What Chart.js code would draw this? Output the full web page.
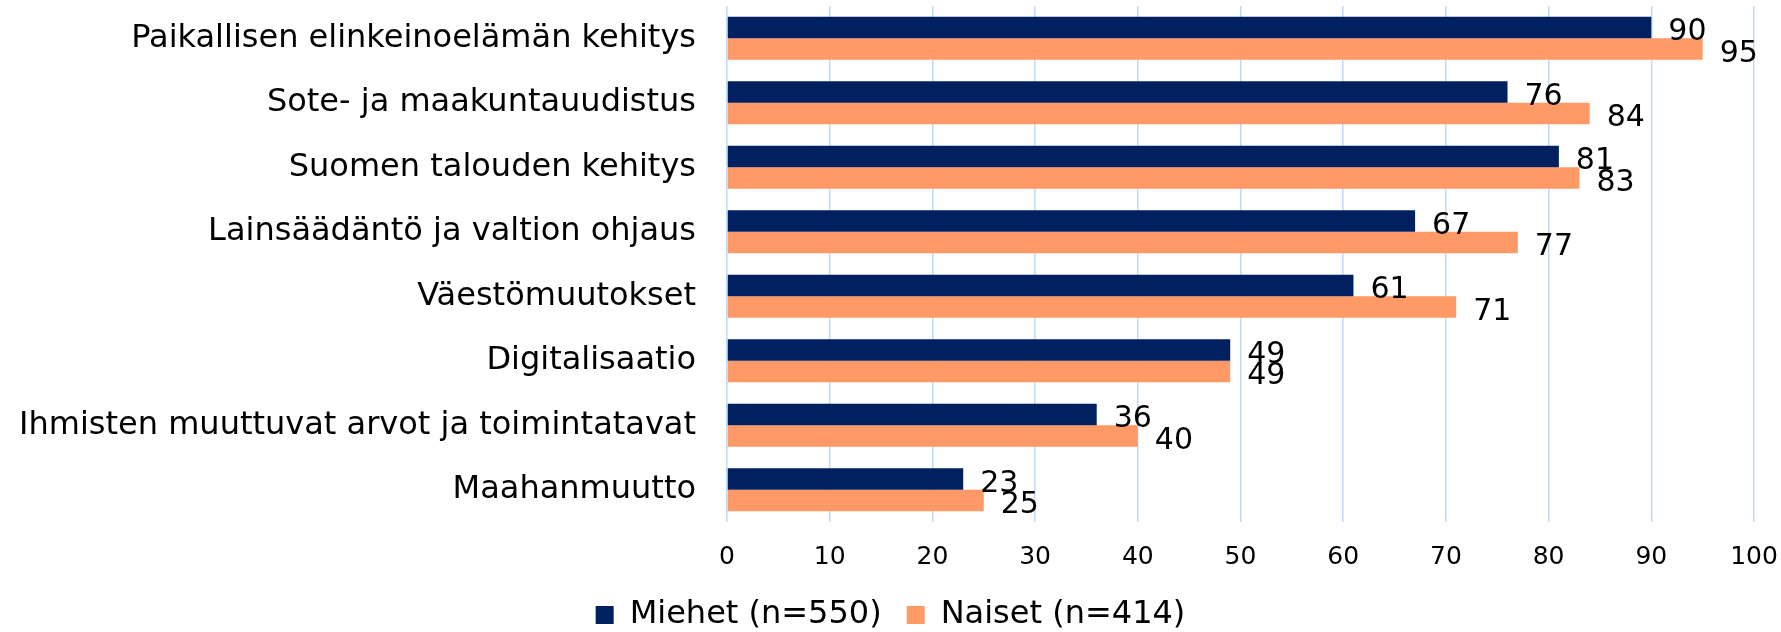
<!DOCTYPE html>
<html>
<head>
<meta charset="utf-8">
<script src="https://cdn.jsdelivr.net/npm/chart.js@4/dist/chart.umd.min.js"></script>
<style>
    html, body { margin: 0; padding: 0; background: #ffffff; }
    #wrap { width: 1781px; height: 632px; }
</style>
</head>
<body>
<div id="wrap"><canvas id="factor-chart"></canvas></div>
<script>
/**
 *  Chart data
 */
var categories = [
    'Paikallisen elinkeinoelämän kehitys',
    'Sote- ja maakuntauudistus',
    'Suomen talouden kehitys',
    'Lainsäädäntö ja valtion ohjaus',
    'Väestömuutokset',
    'Digitalisaatio',
    'Ihmisten muuttuvat arvot ja toimintatavat',
    'Maahanmuutto'
];
var miehetData = [90, 76, 81, 67, 61, 49, 36, 23];
var naisetData = [95, 84, 83, 77, 71, 49, 40, 25];
var seriesLabels = ['Miehet (n=550)', 'Naiset (n=414)'];
var xTicks = [0, 10, 20, 30, 40, 50, 60, 70, 80, 90, 100];

var fontFamily = "'DejaVu Sans', Verdana, sans-serif";

/**
 *  Draw value labels next to bar ends
 */
var valueLabels = {
    id: 'valueLabels',
    afterDatasetsDraw: function (chart) {
        var ctx = chart.ctx;
        ctx.save();
        ctx.font = '30px ' + fontFamily;
        ctx.fillStyle = '#000000';
        ctx.textAlign = 'left';
        ctx.textBaseline = 'middle';
        chart.data.datasets.forEach(function (ds, di) {
            var meta = chart.getDatasetMeta(di);
            meta.data.forEach(function (bar, i) {
                ctx.fillText(ds.data[i], bar.x + 17, bar.y + 5);
            });
        });
        ctx.restore();
    }
};

var ctx = document.getElementById('factor-chart').getContext('2d');
var myFactorChart = new Chart(ctx, {
    type: 'bar',
    data: {
        labels: categories,
        datasets: [
        {
            label: seriesLabels[0],
            data: miehetData,
            backgroundColor: '#002060'
        },
        {
            label: seriesLabels[1],
            data: naisetData,
            backgroundColor: '#FF9966'
        }
        ]
    },
    plugins: [valueLabels],
    options: {
        indexAxis: 'y',
        responsive: true,
        maintainAspectRatio: false,
        animation: false,
        layout: {
            padding: { top: 6, right: 0, left: 0, bottom: 0 }
        },
        datasets: {
            bar: {
                categoryPercentage: 0.667,
                barPercentage: 1.0
            }
        },
        scales: {
            x: {
                min: 0,
                max: 100,
                afterBuildTicks: function (scale) {
                    scale.ticks = xTicks.map(function (v) { return { value: v }; });
                },
                afterFit: function (scale) {
                    scale.height = 52;
                    scale.paddingLeft = 0;
                    scale.paddingRight = 27;
                },
                grid: {
                    color: '#C2D9F4',
                    lineWidth: 1.5,
                    drawTicks: false
                },
                border: { display: false },
                ticks: {
                    padding: 20,
                    color: '#000000',
                    font: { family: fontFamily, size: 25 }
                }
            },
            y: {
                afterFit: function (scale) {
                    scale.width = 727;
                    scale.paddingTop = 0;
                    scale.paddingBottom = 0;
                },
                grid: { display: false },
                border: { display: false },
                ticks: {
                    padding: 23,
                    color: '#000000',
                    font: { family: fontFamily, size: 32 }
                }
            }
        },
        plugins: {
            tooltip: { enabled: false },
            legend: {
                position: 'bottom',
                maxHeight: 58,
                labels: {
                    boxWidth: 18,
                    boxHeight: 18,
                    padding: 25,
                    color: '#000000',
                    font: { family: fontFamily, size: 32 }
                }
            }
        }
    }
});
</script>
</body>
</html>
